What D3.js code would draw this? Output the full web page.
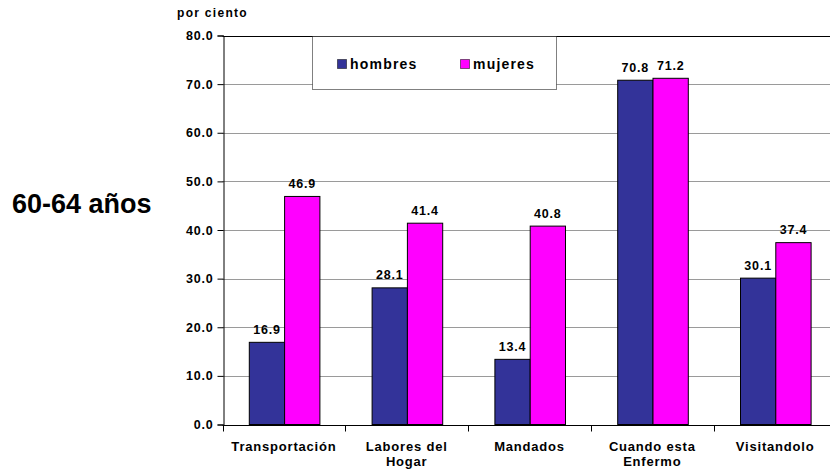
<!DOCTYPE html>
<html><head><meta charset="utf-8">
<script src="https://cdn.jsdelivr.net/npm/d3@7"></script>
<style>
body{margin:0;background:#fff;}
text{font-family:Arial,"Liberation Sans",sans-serif;font-weight:bold;fill:#000;}
</style></head>
<body><svg id="c" width="830" height="472"></svg>
<script>
const categories = [["Transportación"],["Labores del","Hogar"],["Mandados"],["Cuando esta","Enfermo"],["Visitandolo"]];
const seriesNames = ["hombres","mujeres"];
const hombres = [16.9, 28.1, 13.4, 70.8, 30.1];
const mujeres = [46.9, 41.4, 40.8, 71.2, 37.4];
const yTicks = [0,10,20,30,40,50,60,70,80];
const colors = ["#333399","#FF00FF"];

const svg = d3.select("#c");
const L = 222.5, R = 836.5, T = 35.5, B = 424.5;
const catKeys = categories.map(c=>c.join(" "));
const x0 = d3.scaleBand().domain(catKeys).range([L,R]).padding(0);
const x1 = d3.scaleBand().domain(seriesNames).range([26.8, 97.4]).padding(0);
const y = d3.scaleLinear().domain([0,80]).range([B,T]);

// gridlines
svg.append("g").selectAll("line").data(yTicks.filter(t=>t>0 && t<80)).join("line")
  .attr("x1",L).attr("x2",R).attr("y1",d=>Math.round(y(d))+0.5).attr("y2",d=>Math.round(y(d))+0.5)
  .attr("stroke","#9a9a9a").attr("stroke-width",1);
// top border
svg.append("line").attr("x1",L).attr("x2",R).attr("y1",Math.round(T)+0.5).attr("y2",Math.round(T)+0.5)
  .attr("stroke","#000").attr("stroke-width",1);

// bars
const data = categories.map((c,i)=>({key:catKeys[i], vals:[hombres[i],mujeres[i]]}));
const grp = svg.append("g").selectAll("g").data(data).join("g")
  .attr("transform",d=>`translate(${x0(d.key)},0)`);
grp.selectAll("rect").data(d=>d.vals.map((v,j)=>({v,s:seriesNames[j],j}))).join("rect")
  .attr("x",d=>x1(d.s)).attr("width",x1.bandwidth())
  .attr("y",d=>y(d.v)).attr("height",d=>B-y(d.v))
  .attr("fill",d=>colors[d.j]).attr("stroke","#000").attr("stroke-width",1);
grp.selectAll("text").data(d=>d.vals.map((v,j)=>({v,s:seriesNames[j],j}))).join("text")
  .attr("x",d=>x1(d.s)+x1.bandwidth()/2).attr("y",d=>y(d.v)-8.5)
  .attr("text-anchor","middle").style("font-size","12.5px").style("letter-spacing","0.8px")
  .text(d=>d3.format(".1f")(d.v));

// y axis
const ya = svg.append("g").attr("transform",`translate(${Math.round(L)+0.5},0)`)
  .call(d3.axisLeft(y).tickValues(yTicks).tickFormat(d3.format(".1f")).tickSize(6).tickPadding(4));
ya.select(".domain").attr("stroke","#000");
ya.selectAll("text").style("font-size","12.5px").style("letter-spacing","0.8px").attr("font-family",null);

// x axis
const xa = svg.append("g").attr("transform",`translate(0,${Math.round(B)+0.5})`);
xa.append("line").attr("x1",L).attr("x2",R).attr("stroke","#000");
xa.selectAll("line.tk").data(catKeys.concat(["_end"])).join("line").attr("class","tk")
  .attr("x1",(d,i)=>Math.round(L + i*x0.step())+0.5).attr("x2",(d,i)=>Math.round(L + i*x0.step())+0.5)
  .attr("y1",0).attr("y2",6).attr("stroke","#000");
const xl = xa.selectAll("text.cl").data(categories).join("text").attr("class","cl")
  .attr("text-anchor","middle").style("font-size","13px").style("letter-spacing","0.8px")
  .attr("transform",(d,i)=>`translate(${x0(catKeys[i])+x0.bandwidth()/2},0)`);
xl.selectAll("tspan").data(d=>d).join("tspan").attr("x",0).attr("y",(d,i)=>25.5+i*15).text(d=>d);

// axis title
svg.append("text").attr("x",177).attr("y",17).style("font-size","12px").style("letter-spacing","1.3px").text("por ciento");

// side label
svg.append("text").attr("x",12).attr("y",213).style("font-size","27px").text("60-64 años");

// legend
const lg = svg.append("g");
lg.append("rect").attr("x",312.5).attr("y",36.5).attr("width",244).attr("height",53)
  .attr("fill","#fff").attr("stroke","#000").attr("stroke-dasharray","1,1");
const lx = [337, 460];
seriesNames.forEach((s,i)=>{
  lg.append("rect").attr("x",lx[i]+0.5).attr("y",59.5).attr("width",9).attr("height",9)
    .attr("fill",colors[i]).attr("stroke","#000").attr("stroke-dasharray","1,1");
  lg.append("text").attr("x",lx[i]+13).attr("y",68.5).style("font-size","14px").style("letter-spacing","1.2px").text(s);
});
</script></body></html>
